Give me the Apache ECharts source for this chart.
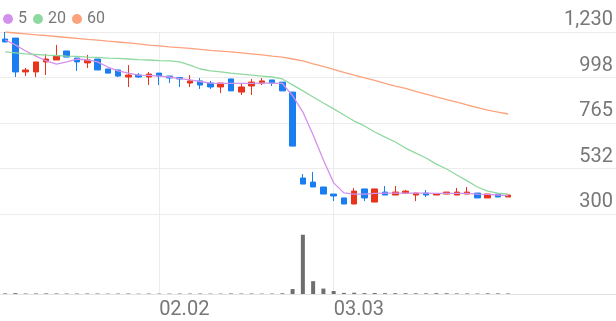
<!DOCTYPE html>
<html><head><meta charset="utf-8">
<script src="https://cdn.jsdelivr.net/npm/echarts@6/dist/echarts.min.js"></script>
<style>html,body{margin:0;padding:0;background:#fff}#c{width:616px;height:321px}</style>
</head><body><div id="c"></div>
<script>
const dates = ['01.12','01.13','01.14','01.15','01.16','01.19','01.20','01.21','01.22','01.23',
  '01.26','01.27','01.28','01.29','01.30','02.02','02.03','02.04','02.05','02.06',
  '02.09','02.10','02.11','02.12','02.13','02.19','02.20','02.23','02.24','02.25',
  '02.26','02.27','03.03','03.04','03.05','03.06','03.09','03.10','03.11','03.12',
  '03.13','03.16','03.17','03.18','03.19','03.20','03.23','03.24','03.25','03.26',
  '03.27','03.30','03.31','04.01','04.02','04.03','04.06','04.07','04.08','04.09'];
const openP  = [1194,1199,1026,1026,1077,1087,1133,1097,1072,1092,1041,1036,1000,1010,1000,1020,1005,997,969,980,969,949,990,923,954,969,985,974,923,484,463,438,402,382,351,428,361,412,397,407,397,407,397,402,397,402,407,382,402,387];
const closeP = [1179,1026,1036,1077,1092,1107,1102,1077,1087,1036,1020,1005,1010,1000,1015,1005,995,990,980,959,949,969,929,949,974,980,969,929,647,453,438,402,392,351,417,382,428,397,412,417,407,397,402,412,412,412,382,402,387,397];
const lowP   = [1179,1000,1005,1000,1010,1087,1102,1031,1046,1036,1020,1000,949,997,959,959,969,949,949,939,939,918,929,908,908,959,954,929,647,453,438,402,366,351,351,366,361,397,397,402,366,387,397,402,397,402,382,382,387,387];
const highP  = [1230,1199,1046,1077,1118,1164,1133,1097,1113,1092,1041,1036,1061,1020,1026,1020,1005,997,1010,995,980,969,990,969,990,995,985,974,923,504,515,438,402,382,433,428,428,443,443,423,407,423,402,412,433,438,407,402,402,397];
const volume = [60,90,50,55,60,55,50,45,50,50,40,45,50,35,45,40,40,45,45,50,40,40,55,45,50,40,45,70,500,6000,1300,550,300,110,130,90,100,85,80,75,70,65,80,75,60,55,50,65,60,55];
const ma5  = [1189,1164,1133,1107,1082,1066,1077,1092,1087,1077,1051,1031,1020,1010,1008,1005,1000,992,985,977,969,967,967,967,967,969,969,967,905,821,704,576,459,408,402,402,405,407,407,407,407,407,405,405,405,405,402,400,397,394];
const ma20 = [1128,1123,1118,1115,1112,1110,1107,1105,1102,1100,1097,1095,1092,1089,1087,1084,1082,1077,1061,1041,1031,1026,1020,1015,1010,1005,1000,990,960,929,898,867,837,806,775,750,719,693,668,637,611,586,555,530,499,469,438,417,407,402];
const ma60 = [1230,1225,1220,1215,1212,1207,1202,1197,1192,1188,1183,1179,1174,1169,1163,1159,1154,1150,1146,1141,1136,1132,1128,1123,1118,1113,1107,1102,1092,1082,1067,1054,1039,1024,1010,995,983,967,954,942,926,913,898,885,872,857,844,831,821,811];
const priceTicks = [300, 532.5, 765, 997.5, 1230];
const priceTickLabels = ['300', '532', '765', '998', '1,230'];
const dateTicks = ['02.02', '03.03'];

const UP = '#e8341c', DOWN = '#1a7ef0';
const C5 = '#d291ec', C20 = '#8fd9a0', C60 = '#fca27c';
const GRIDC = '#ececec', TXT = '#777777', FONT = 'Roboto';

const candles = openP.map((o, i) => [o, closeP[i], lowP[i], highP[i]]);
const tickIdx = dateTicks.map(d => dates.indexOf(d));

const chart = echarts.init(document.getElementById('c'), null, {renderer: 'canvas'});
chart.setOption({
  animation: false,
  backgroundColor: '#fff',
  legend: {
    data: ['5', '20', '60'], left: -2, top: 6, icon: 'circle',
    itemWidth: 10, itemHeight: 10, itemGap: 6,
    textStyle: {color: TXT, fontSize: 16, fontFamily: FONT}
  },
  grid: [
    {left: 0, right: 0, top: 32, height: 182},
    {left: 0, right: 0, top: 215, height: 79}
  ],
  xAxis: [
    {type: 'category', gridIndex: 0, data: dates, boundaryGap: true,
     axisLine: {show: false}, axisTick: {show: false}, axisLabel: {show: false}, splitLine: {show: false}},
    {type: 'category', gridIndex: 1, data: dates, boundaryGap: true,
     axisLine: {show: true, lineStyle: {color: '#e3e3e3', width: 1}}, axisTick: {show: false},
     axisLabel: {interval: (i, v) => dateTicks.includes(v), align: 'left', color: TXT, fontSize: 20, fontFamily: FONT, margin: 6},
     splitLine: {show: false}},
    {type: 'value', gridIndex: 0, min: -0.5, max: dates.length - 0.5,
     axisLine: {show: false}, axisLabel: {show: false, customValues: tickIdx},
     axisTick: {show: false, customValues: tickIdx}, splitLine: {show: true, lineStyle: {color: GRIDC, width: 1}}},
    {type: 'value', gridIndex: 1, min: -0.5, max: dates.length - 0.5,
     axisLine: {show: false}, axisLabel: {show: false, customValues: tickIdx},
     axisTick: {show: false, customValues: tickIdx}, splitLine: {show: true, lineStyle: {color: GRIDC, width: 1}}}
  ],
  yAxis: [
    {type: 'value', gridIndex: 0, position: 'right', min: 300, max: 1230, scale: true,
     axisLine: {show: false}, axisTick: {show: false, customValues: priceTicks},
     axisLabel: {inside: true, customValues: priceTicks, margin: 3, verticalAlign: 'bottom',
       padding: [0, 0, 2, 0], color: TXT, fontSize: 20, fontFamily: FONT,
       formatter: v => { const k = priceTicks.indexOf(v); return k >= 0 ? priceTickLabels[k] : ''; }},
     splitLine: {show: true, lineStyle: {color: GRIDC, width: 1}}},
    {type: 'value', gridIndex: 1, min: 0, max: 8000, show: false, splitLine: {show: false}}
  ],
  series: [
    {type: 'candlestick', name: 'price', xAxisIndex: 0, yAxisIndex: 0, data: candles, barWidth: 6, z: 3,
     itemStyle: {color: UP, color0: DOWN, borderColor: UP, borderColor0: DOWN, borderWidth: 1}},
    {type: 'line', name: '5', xAxisIndex: 0, yAxisIndex: 0, data: ma5, symbol: 'none', z: 4,
     itemStyle: {color: C5}, lineStyle: {color: C5, width: 1.3}},
    {type: 'line', name: '20', xAxisIndex: 0, yAxisIndex: 0, data: ma20, symbol: 'none', z: 4,
     itemStyle: {color: C20}, lineStyle: {color: C20, width: 1.3}},
    {type: 'line', name: '60', xAxisIndex: 0, yAxisIndex: 0, data: ma60, symbol: 'none', z: 4,
     itemStyle: {color: C60}, lineStyle: {color: C60, width: 1.3}},
    {type: 'bar', name: 'volume', xAxisIndex: 1, yAxisIndex: 1, data: volume, barWidth: 4,
     itemStyle: {color: '#6e6e6e'}}
  ]
});
</script></body></html>
